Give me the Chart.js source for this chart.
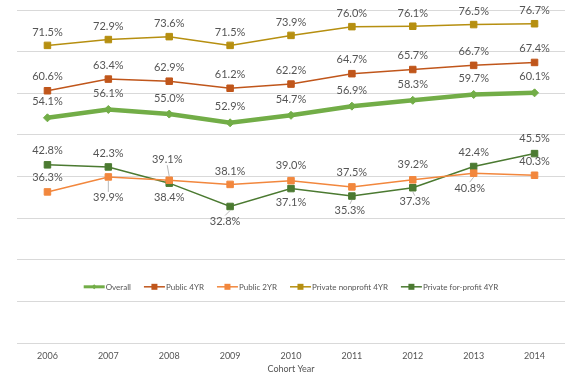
<!DOCTYPE html>
<html>
<head>
<meta charset="utf-8">
<script src="https://cdn.jsdelivr.net/npm/chart.js@4.4.0/dist/chart.umd.min.js"></script>
<style>
  html, body { margin: 0; padding: 0; background: #fff; }
  #chart { display: block; }
</style>
</head>
<body>
<canvas id="chart" width="572" height="378"></canvas>
<script>
const years = ['2006', '2007', '2008', '2009', '2010', '2011', '2012', '2013', '2014']

const overall = [54.1, 56.1, 55.0, 52.9, 54.7, 56.9, 58.3, 59.7, 60.1]
const public4 = [60.6, 63.4, 62.9, 61.2, 62.2, 64.7, 65.7, 66.7, 67.4]
const public2 = [36.3, 39.9, 39.1, 38.1, 39.0, 37.5, 39.2, 40.8, 40.3]
const privNonprofit = [71.5, 72.9, 73.6, 71.5, 73.9, 76.0, 76.1, 76.5, 76.7]
const privForProfit = [42.8, 42.3, 38.4, 32.8, 37.1, 35.3, 37.3, 42.4, 45.5]

const seriesNames = ['Overall', 'Public 4YR', 'Public 2YR', 'Private nonprofit 4YR', 'Private for-profit 4YR']

const textColor = '#555555'
const fontFam = 'Lato, "Open Sans", sans-serif'

// label offsets (px) from each marker, one row per dataset
const labelDy = [
  [-16, -16, -16, -16, -16, -16, -16, -16, -16],
  [-14, -14, -14, -14, -14, -14, -14, -14, -14],
  [-14, 21, -21, -13, -15, -14, -15, 15, -14],
  [-13, -13, -13, -13, -13, -13, -13, -13, -13],
  [-14, -13, 14, 15, 14, 14, 14, -14, -15]
]
const labelDx = [
  [0, 0, 0, 0, 0, 0, 0, 0, 0],
  [0, 0, 0, 0, 0, 0, 0, 0, 0],
  [0, 0, -2, 0, 0, 0, 0, -4, 0],
  [0, 0, 0, 0, 0, 0, 0, 0, 0],
  [0, 0, 0, -5, 0, -2, 2, 0, 0]
]
const leaders = [
  [], [], [1, 2, 7], [], [3, 5, 6]
]

const dataLabels = {
  id: 'dataLabels',
  afterDatasetsDraw(chart) {
    const ctx = chart.ctx
    ctx.save()
    ctx.font = '11px ' + fontFam
    ctx.textAlign = 'center'
    ctx.textBaseline = 'middle'
    chart.data.datasets.forEach((ds, di) => {
      const meta = chart.getDatasetMeta(di)
      meta.data.forEach((pt, i) => {
        const dy = labelDy[di][i]
        const dx = labelDx[di][i]
        const lx = pt.x + dx
        const ly = pt.y + dy
        if (leaders[di].includes(i)) {
          const s = dy > 0 ? 1 : -1
          ctx.strokeStyle = '#a6a6a6'
          ctx.lineWidth = 0.8
          ctx.beginPath()
          ctx.moveTo(pt.x, pt.y + s * 4)
          ctx.lineTo(lx, ly - s * 6)
          ctx.stroke()
        }
        ctx.fillStyle = textColor
        ctx.fillText(ds.data[i].toFixed(1) + '%', lx, ly)
      })
    })
    ctx.restore()
  }
}

const innerLegend = {
  id: 'innerLegend',
  afterDraw(chart) {
    const ctx = chart.ctx
    const area = chart.chartArea
    const y = chart.scales.y.getPixelForValue(13.5)
    ctx.save()
    ctx.font = '8px ' + fontFam
    ctx.textBaseline = 'middle'
    const lineLen = 21
    const gap = 1
    const itemGap = 13
    const widths = chart.data.datasets.map(ds => lineLen + gap + ctx.measureText(ds.label).width)
    const total = widths.reduce((a, b) => a + b, 0) + itemGap * (widths.length - 1)
    let x = (area.left + area.right) / 2 - total / 2
    chart.data.datasets.forEach((ds, di) => {
      ctx.strokeStyle = ds.borderColor
      ctx.fillStyle = ds.borderColor
      ctx.lineWidth = di === 0 ? 3 : 1.5
      ctx.beginPath()
      ctx.moveTo(x, y)
      ctx.lineTo(x + lineLen, y)
      ctx.stroke()
      const cx = x + lineLen / 2
      if (di === 0) {
        ctx.beginPath()
        ctx.moveTo(cx, y - 2.5)
        ctx.lineTo(cx + 2.5, y)
        ctx.lineTo(cx, y + 2.5)
        ctx.lineTo(cx - 2.5, y)
        ctx.closePath()
        ctx.fill()
      } else {
        ctx.fillRect(cx - 3, y - 3, 6, 6)
      }
      ctx.fillStyle = textColor
      ctx.fillText(ds.label, x + lineLen + gap, y + 0.5)
      x += widths[di] + itemGap
    })
    ctx.restore()
  }
}

function lineSet(label, data, color, opts) {
  return Object.assign({
    label: label,
    data: data,
    borderColor: color,
    backgroundColor: color,
    borderWidth: 1.5,
    pointStyle: 'rect',
    pointRadius: 4.6,
    pointBorderWidth: 1,
    tension: 0,
    fill: false
  }, opts || {})
}

const chart = new Chart(document.getElementById('chart'), {
  type: 'line',
  data: {
    labels: years,
    datasets: [
      lineSet(seriesNames[0], overall, '#72ad47', { borderWidth: 4.5, pointStyle: 'rectRot', pointRadius: 4 }),
      lineSet(seriesNames[1], public4, '#c0561b'),
      lineSet(seriesNames[2], public2, '#f2873d'),
      lineSet(seriesNames[3], privNonprofit, '#b68f10'),
      lineSet(seriesNames[4], privForProfit, '#4b7a31')
    ]
  },
  options: {
    responsive: false,
    animation: false,
    layout: { padding: { left: 17, right: 7, top: 10, bottom: 4 } },
    scales: {
      x: {
        offset: true,
        grid: { display: false, drawTicks: false, offset: true },
        border: { display: false },
        ticks: { color: textColor, font: { family: fontFam, size: 9, lineHeight: 1 }, padding: 8.5 },
        title: { display: true, text: 'Cohort Year', color: textColor, font: { family: fontFam, size: 9, lineHeight: 1 }, padding: { top: -4, bottom: 0 } }
      },
      y: {
        min: 0,
        max: 80,
        ticks: { display: false, stepSize: 10 },
        grid: { color: '#d9d9d9', lineWidth: 1, drawTicks: false },
        border: { display: false }
      }
    },
    plugins: {
      legend: { display: false },
      tooltip: { enabled: false }
    }
  },
  plugins: [dataLabels, innerLegend]
})
</script>
</body>
</html>
